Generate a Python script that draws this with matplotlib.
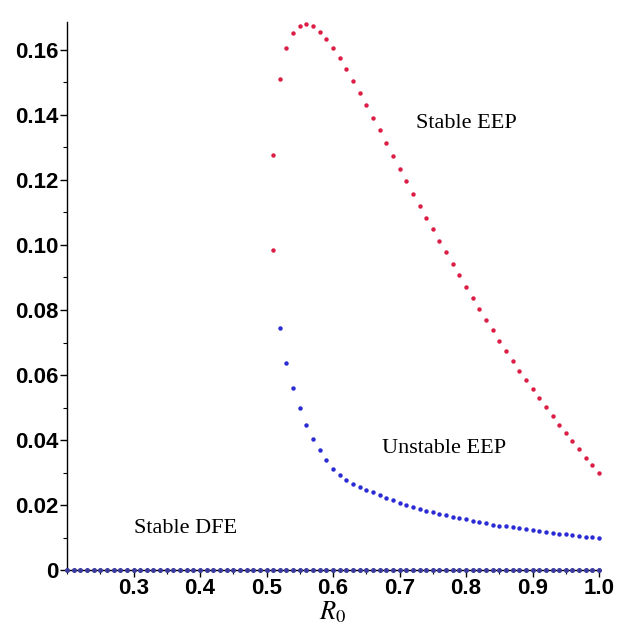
import numpy as np
import matplotlib
matplotlib.use('Agg')
import matplotlib.pyplot as plt
from matplotlib.ticker import MultipleLocator, FixedLocator

plt.rcParams['mathtext.fontset'] = 'stix'

# stable endemic equilibrium (upper branch)
red_r0 = [0.51, 0.51] + list(np.round(np.arange(0.52, 1.001, 0.01), 2))
red_val = [0.0985, 0.1277,
           0.1510, 0.1606, 0.1652, 0.1674, 0.1680, 0.1674, 0.1655, 0.1634,
           0.1606, 0.1575, 0.1542, 0.1505, 0.1468, 0.1431, 0.1391, 0.1354,
           0.1314, 0.1274, 0.1234, 0.1197, 0.1157, 0.1120,
           0.1084, 0.1048, 0.1012, 0.0977, 0.0942, 0.0907, 0.0872, 0.0837,
           0.0803, 0.0770, 0.0738, 0.0706, 0.0674, 0.0643, 0.0612, 0.0584,
           0.0556, 0.0529, 0.0502, 0.0474, 0.0447, 0.0422, 0.0397, 0.0372,
           0.0346, 0.0322, 0.0300]

# unstable endemic equilibrium (lower branch)
blue_r0 = list(np.round(np.arange(0.52, 1.001, 0.01), 2))
blue_val = [0.0745, 0.0638, 0.0560, 0.0497, 0.0446, 0.0404, 0.0369, 0.0338,
            0.0312, 0.0292, 0.0278, 0.0266, 0.0256, 0.0247, 0.0240, 0.0231,
            0.0222, 0.0214, 0.0207, 0.0201, 0.0195, 0.0189, 0.0183, 0.0178,
            0.0173, 0.0168, 0.0164, 0.0160, 0.0156, 0.0152, 0.0148, 0.0144,
            0.0140, 0.0137, 0.0134, 0.0131, 0.0128, 0.0125, 0.0122, 0.0119,
            0.0116, 0.0114, 0.0112, 0.0110, 0.0107, 0.0105, 0.0103, 0.0101,
            0.0099]

# disease free equilibrium
dfe_r0 = list(np.round(np.arange(0.20, 1.001, 0.01), 2))
dfe_val = [0.0] * len(dfe_r0)

x_ticks = [0.3, 0.4, 0.5, 0.6, 0.7, 0.8, 0.9, 1.0]
x_labels = ['0.3', '0.4', '0.5', '0.6', '0.7', '0.8', '0.9', '1.0']
y_ticks = [0, 0.02, 0.04, 0.06, 0.08, 0.10, 0.12, 0.14, 0.16]
y_labels = ['0', '0.02', '0.04', '0.06', '0.08', '0.10', '0.12', '0.14', '0.16']

fig = plt.figure(figsize=(6.18, 6.42), dpi=100)
ax = fig.add_axes([0.1084, 0.1121, 0.861, 0.8536])

ax.plot(dfe_r0, dfe_val, 'o', ms=2.6, color='#3b3b9e', clip_on=False, zorder=3)
ax.plot(red_r0, red_val, 'o', ms=3.2, color='#dc1e46', mec='none', clip_on=False)
ax.plot(blue_r0, blue_val, 'o', ms=3.2, color='#2b2bd6', mec='none', clip_on=False)

ax.set_xlim(0.2, 1.0)
ax.set_ylim(0, 0.1686)

for s in ['top', 'right']:
    ax.spines[s].set_visible(False)
for s in ['left', 'bottom']:
    ax.spines[s].set_linewidth(1.0)

ax.xaxis.set_major_locator(FixedLocator(x_ticks))
ax.set_xticklabels(x_labels)
ax.xaxis.set_minor_locator(MultipleLocator(0.05))
ax.yaxis.set_major_locator(FixedLocator(y_ticks))
ax.set_yticklabels(y_labels)
ax.yaxis.set_minor_locator(MultipleLocator(0.01))

ax.tick_params(which='major', direction='out', length=5, width=1, pad=1)
ax.tick_params(which='minor', direction='out', length=3, width=0.8)
for lab in ax.get_xticklabels() + ax.get_yticklabels():
    lab.set_fontfamily('Liberation Sans')
    lab.set_fontweight('bold')
    lab.set_fontsize(16)

ax.set_xlabel('$R_0$', fontsize=19, labelpad=0)

serif = dict(family='Liberation Serif', fontsize=16, va='center', ha='left')
ax.text(0.724, 0.1375, 'Stable EEP', **serif)
ax.text(0.673, 0.0375, 'Unstable EEP', **serif)
ax.text(0.300, 0.0129, 'Stable DFE', **serif)

fig.savefig('out.png', dpi=100)
